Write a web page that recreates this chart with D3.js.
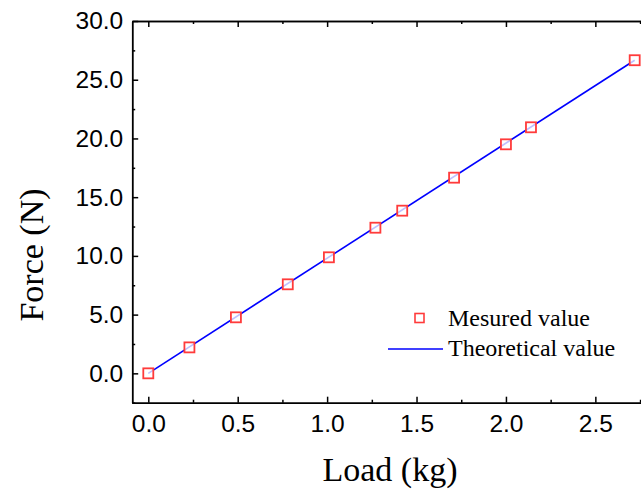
<!DOCTYPE html>
<html>
<head>
<meta charset="utf-8">
<script src="https://cdn.jsdelivr.net/npm/d3@7"></script>
<style>
  body { margin: 0; background: #fff; }
  .tick text { font-family: "Liberation Sans", Arial, sans-serif; font-size: 24.5px; fill: #000; }
  .axis path, .axis line { stroke: #000; stroke-width: 1.5; }
  .title { font-family: "Liberation Serif", "Times New Roman", serif; font-size: 34px; fill: #000; }
  .legend { font-family: "Liberation Serif", "Times New Roman", serif; font-size: 24px; fill: #000; }
</style>
</head>
<body>
<script>
// measured points (Load kg, Force N)
var load = [0.00, 0.23, 0.49, 0.78, 1.01, 1.27, 1.42, 1.71, 2.00, 2.14, 2.72];
var force = [0.00, 2.21, 4.77, 7.58, 9.88, 12.40, 13.85, 16.66, 19.50, 20.95, 26.66];
// theoretical line endpoints
var theoLoad = [0.00, 2.72];
var theoForce = [0.00, 26.66];
var xTicks = [0, 0.5, 1.0, 1.5, 2.0, 2.5];
var yTicks = [0, 5, 10, 15, 20, 25, 30];

var W = 641, H = 491;
var svg = d3.select("body").append("svg").attr("width", W).attr("height", H);

var x = d3.scaleLinear().domain([-0.09, 2.80]).range([132.2, 649]);
var y = d3.scaleLinear().domain([-2.5, 30]).range([402.7, 21]);

var xMinor = d3.range(-0.0, 2.8, 0.25).filter(function(v){ return Math.abs(v*2 - Math.round(v*2)) > 1e-6; });
var yMinor = d3.range(-2.5, 30, 2.5).filter(function(v){ return Math.abs(v/5 - Math.round(v/5)) > 1e-6; });

// bottom axis
svg.append("g").attr("class", "axis").attr("transform", "translate(0," + y(-2.5) + ")")
   .call(d3.axisBottom(x).tickValues(xTicks).tickFormat(d3.format(".1f")).tickSizeInner(-6).tickSizeOuter(0).tickPadding(12));
svg.append("g").attr("class", "axis").attr("transform", "translate(0," + y(-2.5) + ")")
   .call(d3.axisBottom(x).tickValues(xMinor).tickFormat("").tickSizeInner(-3).tickSizeOuter(0));
// top axis
svg.append("g").attr("class", "axis").attr("transform", "translate(0," + y(30) + ")")
   .call(d3.axisTop(x).tickValues(xTicks).tickFormat("").tickSizeInner(-6).tickSizeOuter(0));
svg.append("g").attr("class", "axis").attr("transform", "translate(0," + y(30) + ")")
   .call(d3.axisTop(x).tickValues(xMinor).tickFormat("").tickSizeInner(-3).tickSizeOuter(0));
// left axis
svg.append("g").attr("class", "axis").attr("transform", "translate(" + x(-0.09) + ",0)")
   .call(d3.axisLeft(y).tickValues(yTicks).tickFormat(d3.format(".1f")).tickSizeInner(-6).tickSizeOuter(0).tickPadding(9));
svg.append("g").attr("class", "axis").attr("transform", "translate(" + x(-0.09) + ",0)")
   .call(d3.axisLeft(y).tickValues(yMinor).tickFormat("").tickSizeInner(-3).tickSizeOuter(0));

// theoretical line
var line = d3.line().x(function(d){ return x(d[0]); }).y(function(d){ return y(d[1]); });
svg.append("path")
   .datum(d3.zip(theoLoad, theoForce))
   .attr("d", line)
   .attr("fill", "none")
   .attr("stroke", "#0000ff")
   .attr("stroke-width", 1.6);

// measured markers
svg.selectAll("rect.pt")
   .data(d3.zip(load, force))
   .enter().append("rect")
   .attr("class", "pt")
   .attr("x", function(d){ return x(d[0]) - 5; })
   .attr("y", function(d){ return y(d[1]) - 5; })
   .attr("width", 10).attr("height", 10)
   .attr("fill", "rgba(255,255,255,0.75)")
   .attr("stroke", "#ff3b3b")
   .attr("stroke-width", 1.8);

// axis titles
svg.append("text").attr("class", "title")
   .attr("x", 390).attr("y", 481).attr("text-anchor", "middle")
   .text("Load (kg)");
svg.append("text").attr("class", "title")
   .attr("transform", "translate(43,255) rotate(-90)")
   .attr("text-anchor", "middle")
   .text("Force (N)");

// legend
svg.append("rect")
   .attr("x", 415).attr("y", 313.5).attr("width", 9).attr("height", 9)
   .attr("fill", "#fff").attr("stroke", "#ff3b3b").attr("stroke-width", 1.6);
svg.append("text").attr("class", "legend").attr("x", 448).attr("y", 326).text("Mesured value");
svg.append("line")
   .attr("x1", 388).attr("x2", 443).attr("y1", 349).attr("y2", 349)
   .attr("stroke", "#0000ff").attr("stroke-width", 1.6);
svg.append("text").attr("class", "legend").attr("x", 448).attr("y", 356).text("Theoretical value");
</script>
</body>
</html>
